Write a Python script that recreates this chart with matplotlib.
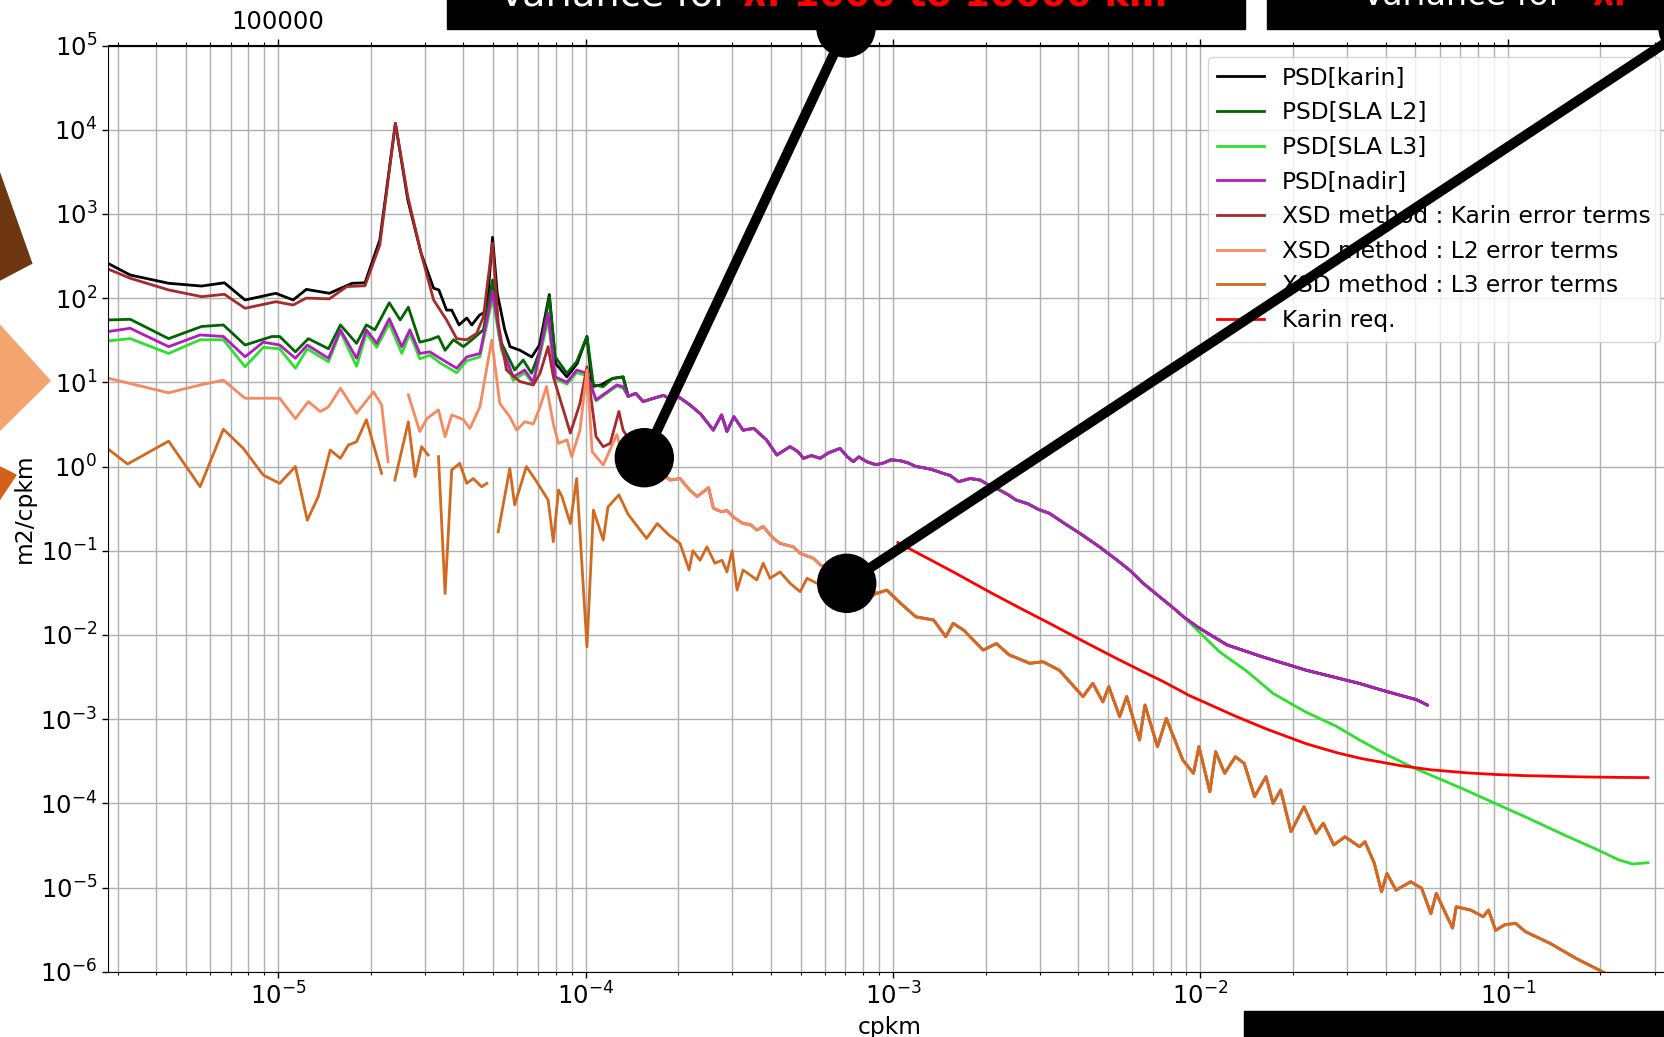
import matplotlib
matplotlib.use("Agg")
import matplotlib.pyplot as plt
import numpy as np
from matplotlib.patches import Rectangle, Polygon, Circle
from matplotlib.ticker import LogLocator, NullLocator, NullFormatter, FuncFormatter

nan = np.nan

# ---- data (cpkm, m2/cpkm) ----
# PSD[karin], low frequency part
karin_f = [2.79e-6, 3.30e-6, 4.40e-6, 5.63e-6, 6.68e-6, 7.80e-6, 9.82e-6, 1.118e-5, 1.234e-5, 1.467e-5,
           1.739e-5, 1.915e-5, 2.14e-5, 2.405e-5, 2.64e-5, 2.916e-5, 3.202e-5, 3.331e-5, 3.528e-5, 3.667e-5,
           3.875e-5, 4.103e-5, 4.262e-5, 4.52e-5, 4.769e-5, 4.978e-5, 5.157e-5, 5.456e-5, 5.676e-5, 6.116e-5,
           6.676e-5, 7.077e-5, 7.619e-5, 7.981e-5, 8.686e-5, 9.391e-5, 1.010e-4, 1.050e-4, 1.121e-4, 1.222e-4,
           1.324e-4]
karin_v = [259, 188, 150, 139, 152, 95, 114, 95, 127, 114,
           150, 152, 490, 11900, 1460, 340, 131, 125, 72, 72,
           48, 58, 48, 63, 70, 527, 114, 42, 26.5, 24,
           20, 27.7, 110, 16.8, 11.6, 16.8, 35, 8.9, 9.3, 11.1,
           11.6]

# PSD[SLA L2], low frequency part
sla2_f = [2.79e-6, 3.30e-6, 4.40e-6, 5.63e-6, 6.63e-6, 7.80e-6, 9.54e-6, 1.011e-5, 1.137e-5, 1.253e-5,
          1.457e-5, 1.593e-5, 1.798e-5, 1.935e-5, 2.062e-5, 2.297e-5, 2.493e-5, 2.650e-5, 2.887e-5, 3.113e-5,
          3.321e-5, 3.489e-5, 3.716e-5, 4.003e-5, 4.311e-5, 4.649e-5, 4.978e-5, 5.257e-5, 5.876e-5, 6.265e-5,
          6.666e-5, 7.107e-5, 7.619e-5, 7.961e-5, 8.696e-5, 9.35e-5, 1.010e-4, 1.060e-4, 1.141e-4, 1.222e-4,
          1.324e-4]
sla2_v = [55, 56, 33, 46, 48, 27.7, 35, 35, 23, 33,
          25, 48, 29, 48, 42, 88, 55, 78, 30, 32,
          35, 24, 32, 26.5, 33, 42, 164, 32, 14, 18.4,
          12.8, 24, 104, 20, 12.8, 17.6, 35, 9.3, 8.9, 11.1,
          11.6]

# PSD[nadir] and PSD[SLA L3], low frequency part (same frequencies)
low_f = [2.79e-6, 3.30e-6, 4.40e-6, 5.57e-6, 6.63e-6, 7.80e-6, 8.94e-6, 1.011e-5, 1.137e-5, 1.243e-5,
         1.457e-5, 1.593e-5, 1.798e-5, 1.935e-5, 2.091e-5, 2.297e-5, 2.523e-5, 2.680e-5, 2.887e-5, 3.113e-5,
         3.360e-5, 3.806e-5, 4.103e-5, 4.530e-5, 4.978e-5, 5.326e-5, 5.816e-5, 6.336e-5, 6.756e-5, 7.549e-5,
         7.961e-5, 8.696e-5, 9.35e-5, 1.010e-4, 1.081e-4, 1.263e-4, 1.324e-4]
nadir_v = [40, 43.8, 26.5, 36.5, 35, 20.1, 30, 27.7, 19.3, 27.7,
           19.3, 42, 19.3, 42, 29, 57, 26.5, 42, 22, 23,
           19.3, 14.7, 20, 22, 119, 26.5, 11.6, 14, 10, 66,
           11.6, 10, 14, 12.8, 6.2, 9.3, 8.9]
sla3_v = [31, 33, 22, 32, 32, 15.3, 26, 25, 14.7, 25,
          17.5, 40, 15.5, 38, 26, 50, 22, 38, 19, 21,
          17, 13, 18, 20, 100, 24, 10.5, 13, 9.5, 55,
          11, 9.5, 13, 12, 6.0, 9.0, 8.5]

# where karin, L2, L3 and nadir lie on top of each other
top_f = [1.375e-4, 1.456e-4, 1.538e-4, 1.65e-4, 1.793e-4, 1.905e-4, 2.007e-4, 2.182e-4, 2.367e-4, 2.603e-4,
         2.768e-4, 2.882e-4, 3.036e-4, 3.253e-4, 3.522e-4, 3.875e-4, 4.187e-4, 4.624e-4, 4.905e-4, 5.114e-4,
         5.427e-4, 5.793e-4, 6.16e-4, 6.726e-4, 7.104e-4, 7.43e-4, 7.735e-4, 8.208e-4, 8.788e-4, 9.306e-4,
         9.845e-4, 1.059e-3, 1.122e-3, 1.186e-3, 1.250e-3, 1.324e-3, 1.388e-3, 1.452e-3, 1.537e-3, 1.633e-3,
         1.783e-3, 1.922e-3, 2.051e-3, 2.223e-3, 2.373e-3, 2.513e-3, 2.751e-3, 2.967e-3, 3.226e-3, 3.617e-3,
         4.052e-3, 4.694e-3, 5.361e-3, 5.909e-3, 6.512e-3, 7.227e-3, 8.076e-3, 8.881e-3]
top_v = [6.8, 7.4, 5.9, 6.4, 7.0, 6.1, 6.7, 5.4, 4.2, 2.7,
         4.1, 2.6, 3.9, 2.7, 2.84, 2.07, 1.37, 1.72, 1.5, 1.25,
         1.35, 1.25, 1.45, 1.64, 1.3, 1.14, 1.3, 1.14, 1.05, 1.10,
         1.2, 1.17, 1.1, 1.0, 0.97, 0.93, 0.88, 0.83, 0.78, 0.66,
         0.72, 0.69, 0.6, 0.525, 0.46, 0.40, 0.36, 0.31, 0.278, 0.21,
         0.161, 0.111, 0.077, 0.058, 0.041, 0.03, 0.0216, 0.016]

nadir_tail_f = [9.756e-3, 1.088e-2, 1.221e-2, 1.589e-2, 2.195e-2, 2.771e-2, 3.280e-2, 3.905e-2, 4.441e-2, 5.047e-2,
                5.471e-2]
nadir_tail_v = [0.0125, 0.0098, 0.0076, 0.0055, 0.00383, 0.0031, 0.00266, 0.0022, 0.00193, 0.0017,
                0.00147]

sla3_tail_f = [9.756e-3, 1.154e-2, 1.421e-2, 1.723e-2, 2.195e-2, 2.771e-2, 3.292e-2, 4.019e-2, 4.967e-2, 7.069e-2,
               9.08e-2, 0.114, 0.1572, 0.196, 0.2301, 0.2549, 0.2857]
sla3_tail_v = [0.0114, 0.0063, 0.00366, 0.00202, 0.00122, 0.00082, 0.000565, 0.00038, 0.000261, 1.51e-4,
               1.0e-4, 6.9e-5, 4.0e-5, 2.8e-5, 2.12e-5, 1.9e-5, 1.97e-5]

# XSD method : Karin error terms, low frequency part
xkarin_f = [2.79e-6, 3.30e-6, 4.40e-6, 5.63e-6, 6.68e-6, 7.80e-6, 9.82e-6, 1.118e-5, 1.234e-5, 1.467e-5,
            1.671e-5, 1.915e-5, 2.14e-5, 2.405e-5, 2.64e-5, 2.916e-5, 3.202e-5, 3.528e-5, 3.806e-5, 4.103e-5,
            4.421e-5, 4.649e-5, 4.978e-5, 5.197e-5, 5.526e-5, 6.116e-5, 6.756e-5, 7.107e-5, 7.549e-5, 7.85e-5,
            8.917e-5, 9.583e-5, 1.010e-4, 1.081e-4, 1.141e-4, 1.202e-4, 1.283e-4, 1.324e-4, 1.395e-4, 1.578e-4,
            1.751e-4]
xkarin_v = [222, 172, 125, 104, 111, 75.7, 90.6, 82.8, 100, 98,
            137, 140, 427, 11900, 1600, 340, 95, 55, 33, 32,
            38, 60, 450, 50, 14, 10.2, 9.3, 12.8, 26.5, 11.6,
            2.5, 5.6, 15.3, 2.26, 1.72, 1.88, 4.5, 2.7, 2.0, 1.2,
            0.85]

# XSD method : L2 error terms, low frequency part
xl2_f = [2.79e-6, 4.40e-6, 5.57e-6, 6.63e-6, 7.80e-6, 1.011e-5, 1.137e-5, 1.253e-5, 1.369e-5, 1.457e-5,
         1.593e-5, 1.798e-5, 2.042e-5, 2.169e-5, 2.277e-5, 2.405e-5, 2.650e-5, 2.887e-5, 3.044e-5, 3.321e-5,
         3.489e-5, 3.667e-5, 4.003e-5, 4.202e-5, 4.530e-5, 4.948e-5, 5.257e-5, 5.666e-5, 5.966e-5, 6.336e-5,
         6.756e-5, 7.107e-5, 7.459e-5, 7.85e-5, 8.162e-5, 8.696e-5, 9.008e-5, 9.583e-5, 1.010e-4, 1.050e-4,
         1.141e-4, 1.263e-4, 1.324e-4, 1.354e-4, 1.578e-4, 1.751e-4]
xl2_v = [11.2, 7.5, 9.3, 10.6, 6.46, 6.46, 3.7, 5.9, 4.5, 5.1,
         8.5, 4.3, 7.7, 5.4, 1.14, nan, 7.1, 2.6, 3.7, 4.7,
         2.26, 4.1, 3.6, 2.84, 5.1, 31.8, 5.6, 3.9, 2.7, 3.4,
         3.2, 5.1, 8.9, 3.2, 1.88, 2.07, 1.31, 2.7, 14, 1.5,
         1.04, 2.4, 1.31, 1.57, 1.0, 0.8]

# Karin and L2 error terms share this stretch
mid_f = [1.885e-4, 2.028e-4, 2.182e-4, 2.305e-4, 2.511e-4, 2.603e-4, 2.768e-4, 2.882e-4, 3.026e-4, 3.253e-4,
         3.429e-4, 3.605e-4, 3.782e-4, 4.083e-4, 4.291e-4, 4.738e-4, 4.989e-4, 5.511e-4, 5.793e-4, 6.684e-4,
         7.735e-4]
mid_v = [0.69, 0.72, 0.525, 0.44, 0.56, 0.32, 0.29, 0.30, 0.25, 0.21,
         0.205, 0.176, 0.193, 0.14, 0.122, 0.111, 0.093, 0.081, 0.068, 0.055,
         0.042]

# XSD method : L3 error terms, low frequency part
xl3_f = [2.79e-6, 3.234e-6, 4.40e-6, 5.57e-6, 6.63e-6, 7.699e-6, 8.94e-6, 1.011e-5, 1.137e-5, 1.243e-5,
         1.350e-5, 1.476e-5, 1.593e-5, 1.691e-5, 1.798e-5, 1.935e-5, 2.169e-5, 2.257e-5, 2.395e-5, 2.650e-5,
         2.788e-5, 2.926e-5, 3.074e-5, 3.192e-5, 3.321e-5, 3.489e-5, 3.667e-5, 3.895e-5, 4.103e-5, 4.311e-5,
         4.589e-5, 4.769e-5, 4.978e-5, 5.197e-5, 5.666e-5, 5.876e-5, 6.416e-5, 6.927e-5, 7.549e-5, 7.85e-5,
         8.162e-5, 8.374e-5, 8.917e-5, 9.35e-5, 1.010e-4, 1.060e-4, 1.141e-4, 1.182e-4, 1.283e-4, 1.375e-4,
         1.578e-4, 1.711e-4, 1.864e-4, 2.028e-4, 2.171e-4, 2.233e-4, 2.356e-4, 2.480e-4, 2.634e-4, 2.779e-4,
         2.882e-4, 2.995e-4, 3.109e-4, 3.253e-4, 3.605e-4, 3.782e-4, 3.979e-4, 4.291e-4, 4.624e-4, 4.989e-4,
         5.25e-4, 6.16e-4, 7.209e-4, 8.262e-4]
xl3_v = [1.62, 1.07, 2.0, 0.575, 2.77, 1.64, 0.79, 0.63, 1.0, 0.23,
         0.44, 1.57, 1.25, 1.8, 1.97, 3.6, 0.83, nan, 0.69, 3.4,
         0.76, 1.72, 1.37, nan, 1.31, 0.031, 0.91, 1.09, 0.63, 0.72,
         0.575, 0.63, nan, 0.168, 0.95, 0.35, 1.0, 0.66, 0.40, 0.128,
         0.525, 0.44, 0.21, 0.72, 0.0072, 0.304, 0.134, 0.33, 0.46, 0.27,
         0.14, 0.21, 0.154, 0.122, 0.059, 0.10, 0.077, 0.111, 0.071, 0.077,
         0.056, 0.10, 0.034, 0.059, 0.045, 0.071, 0.047, 0.056, 0.041, 0.0326,
         0.047, 0.035, 0.03, 0.027]

# the three XSD error curves coincide at high frequency
tail_f = [8.852e-4, 9.549e-4, 1.059e-3, 1.186e-3, 1.356e-3, 1.484e-3, 1.569e-3, 1.697e-3, 1.965e-3, 2.169e-3,
          2.384e-3, 2.783e-3, 3.075e-3, 3.476e-3, 4.149e-3, 4.466e-3, 4.815e-3, 5.033e-3, 5.46e-3, 5.755e-3,
          6.336e-3, 6.6e-3, 7.249e-3, 7.745e-3, 8.76e-3, 9.49e-3, 9.889e-3, 1.073e-2, 1.121e-2, 1.199e-2,
          1.299e-2, 1.388e-2, 1.500e-2, 1.634e-2, 1.723e-2, 1.824e-2, 1.970e-2, 2.172e-2, 2.375e-2, 2.511e-2,
          2.714e-2, 2.952e-2, 3.292e-2, 3.428e-2, 3.678e-2, 3.883e-2, 4.042e-2, 4.327e-2, 4.83e-2, 5.242e-2,
          5.62e-2, 5.85e-2, 6.609e-2, 6.793e-2, 7.565e-2, 8.316e-2, 8.652e-2, 9.126e-2, 9.764e-2, 0.106,
          0.114, 0.1373, 0.1666, 0.203, 0.2857]
tail_v = [0.0312, 0.034, 0.0237, 0.0164, 0.015, 0.0095, 0.0137, 0.0114, 0.0066, 0.0079,
          0.0058, 0.0046, 0.0048, 0.0038, 0.00185, 0.00266, 0.0016, 0.00243, 0.00107, 0.00185,
          0.000565, 0.00147, 0.00047, 0.00102, 0.000327, 0.000227, 0.00047, 1.37e-4, 4.1e-4, 2.27e-4,
          3.57e-4, 2.98e-4, 1.2e-4, 2.07e-4, 1.0e-4, 1.44e-4, 4.6e-5, 9.1e-5, 4.4e-5, 5.8e-5,
          3.2e-5, 4.0e-5, 3.05e-5, 3.5e-5, 1.94e-5, 8.9e-6, 1.47e-5, 9.3e-6, 1.17e-5, 9.8e-6,
          4.9e-6, 8.5e-6, 3.3e-6, 5.9e-6, 5.4e-6, 4.5e-6, 5.4e-6, 3.1e-6, 3.6e-6, 3.76e-6,
          2.99e-6, 2.17e-6, 1.44e-6, 1.0e-6, 5e-7]

# Karin requirement
req_f = [1.037e-3, 1.250e-3, 1.569e-3, 2.105e-3, 2.643e-3, 3.183e-3, 4.269e-3, 5.361e-3, 6.458e-3, 7.557e-3,
         9.213e-3, 1.088e-2, 1.310e-2, 1.645e-2, 2.206e-2, 2.771e-2, 3.337e-2, 4.476e-2, 5.62e-2, 7.346e-2,
         9.08e-2, 0.114, 0.1725, 0.2313, 0.2857]
req_v = [0.125, 0.087, 0.056, 0.031, 0.020, 0.0141, 0.0080, 0.0052, 0.0037, 0.0028,
         0.0019, 0.00145, 0.00107, 0.00076, 0.00051, 0.00040, 0.00034, 0.00028, 0.00025, 0.00023,
         0.00022, 0.000213, 0.000206, 0.000203, 0.000202]

series = [
    ("PSD[karin]", karin_f + top_f + nadir_tail_f, karin_v + top_v + nadir_tail_v, "black"),
    ("PSD[SLA L2]", sla2_f + top_f + nadir_tail_f, sla2_v + top_v + nadir_tail_v, "darkgreen"),
    ("PSD[SLA L3]", low_f + top_f + sla3_tail_f, sla3_v + top_v + sla3_tail_v, "#2ee02e"),
    ("PSD[nadir]", low_f + top_f + nadir_tail_f, nadir_v + top_v + nadir_tail_v, "#b31bbf"),
    ("XSD method : Karin error terms", xkarin_f + mid_f + tail_f, xkarin_v + mid_v + tail_v, "brown"),
    ("XSD method : L2 error terms", xl2_f + mid_f + tail_f, xl2_v + mid_v + tail_v, "#f7895e"),
    ("XSD method : L3 error terms", xl3_f + tail_f, xl3_v + tail_v, "chocolate"),
    ("Karin req.", req_f, req_v, "red"),
]

FS = 16.8
TFS = 17.5
W, H = 1665, 1037

fig = plt.figure(figsize=(W / 100, H / 100), dpi=100)
ax = fig.add_axes([108.3 / W, (H - 971.7) / H, (1672 - 108.3) / W, (971.7 - 45.5) / H])

for label, f, v, c in series:
    ax.plot(f, v, color=c, lw=2, label=label)

ax.set_xscale("log")
ax.set_yscale("log")
ax.set_xlim(2.80e-6, 0.342)
ax.set_ylim(1e-6, 1e5)
ax.yaxis.set_major_locator(LogLocator(base=10, numticks=30))
ax.yaxis.set_minor_locator(NullLocator())
ax.xaxis.set_major_locator(LogLocator(base=10, numticks=30))
ax.xaxis.set_minor_locator(LogLocator(base=10, subs=np.arange(2, 10), numticks=30))

ax.grid(True, which="major", color="#b0b0b0", lw=1.0)
ax.grid(True, which="minor", axis="x", color="#b0b0b0", lw=1.0)
ax.tick_params(which="both", labelsize=TFS)
ax.tick_params(which="major", length=4.5, width=1.0)
ax.tick_params(which="minor", length=2.5, width=0.8)

ax.set_xlabel("cpkm", fontsize=FS)
ax.set_ylabel("m2/cpkm", fontsize=FS)
ax.yaxis.set_label_coords(-0.046, 0.5)

# wavelength (km) on top
secax = ax.secondary_xaxis("top")
secax.xaxis.set_major_locator(LogLocator(base=10, numticks=30))
secax.xaxis.set_major_formatter(FuncFormatter(lambda v, p: "%d" % round(1.0 / v)))
secax.xaxis.set_minor_locator(LogLocator(base=10, subs=np.arange(2, 10), numticks=30))
secax.xaxis.set_minor_formatter(NullFormatter())
secax.tick_params(which="both", labelsize=TFS)
secax.tick_params(which="major", length=4.5, width=1.0)
secax.tick_params(which="minor", length=2.5, width=0.8)

ax.legend(loc="upper right", fontsize=FS)

# ---- slide annotations drawn over the chart (pixel coordinates) ----
ov = fig.add_axes([0, 0, 1, 1], zorder=10)
ov.set_xlim(0, W)
ov.set_ylim(H, 0)
ov.axis("off")
ov.patch.set_alpha(0)

ov.add_patch(Rectangle((447, -5), 798, 34, color="black"))
ov.add_patch(Rectangle((1267, -5), 420, 34, color="black"))
ov.add_patch(Rectangle((1244, 1011), 440, 40, color="black"))

ov.text(499, 5, "Variance for", color="white", fontsize=27.5, va="baseline", ha="left")
ov.text(743, 5, "λ: 1000 to 10000 km", color="red", fontsize=26.5, fontweight="bold",
        va="baseline", ha="left")
ov.text(1362, 5, "Variance for", color="white", fontsize=24, va="baseline", ha="left")
ov.text(1592, 5, "λ:", color="red", fontsize=24, fontweight="bold", va="baseline", ha="left")

ov.add_patch(Polygon([(-5, 160), (31.7, 263.3), (-5, 282.6)], color="#6f3711"))
ov.add_patch(Polygon([(-5, 320), (50, 380.7), (-5, 435)], color="#f4a46f"))
ov.add_patch(Polygon([(-5, 464.5), (16, 475), (-5, 506.5)], color="#d2601a"))

ov.plot([644.3, 846], [457.7, 28], color="black", lw=7.2, solid_capstyle="butt")
ov.plot([846.7, 1688], [583.3, 28], color="black", lw=7.2, solid_capstyle="butt")
for cx, cy in [(644.3, 457.7), (846, 28), (846.7, 583.3), (1688, 28)]:
    ov.add_patch(Circle((cx, cy), 29, color="black"))

fig.savefig("out.png", dpi=100)
